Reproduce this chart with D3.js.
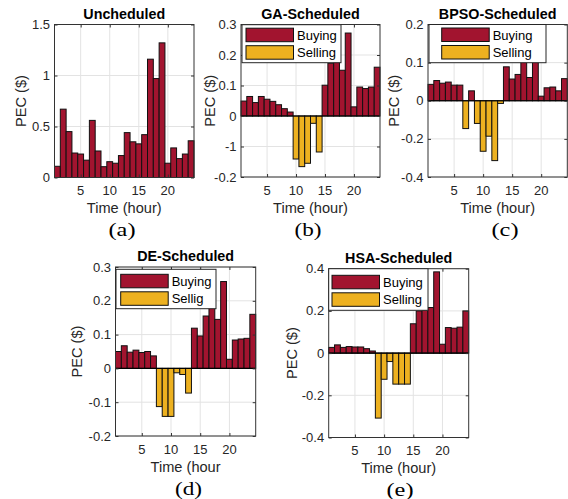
<!DOCTYPE html>
<html>
<head>
<meta charset="utf-8">
<script src="https://cdn.jsdelivr.net/npm/d3@7"></script>
<style>
  body { margin: 0; background: #fff; }
  svg { font-family: "Liberation Sans", Arial, sans-serif; }
</style>
</head>
<body>
<svg id="chart" width="568" height="499"></svg>
<script>
// hours 1..24
var hours = d3.range(1, 25);

// PEC values ($)
var unscheduled = [0.11, 0.67, 0.45, 0.24, 0.23, 0.17, 0.56, 0.26, 0.106, 0.155, 0.14, 0.215,
                   0.44, 0.35, 0.33, 0.42, 1.16, 0.97, 1.32, 0.14, 0.29, 0.185, 0.23, 0.36];
var gaScheduled = [0.049, 0.064, 0.044, 0.064, 0.055, 0.048, 0.037, 0.024, 0.013, -0.141, -0.166, -0.155,
                   -0.024, -0.118, 0.101, 0.173, 0.19, 0.15, 0.272, 0.03, 0.095, 0.09, 0.095, 0.16];
var bpsoScheduled = [0.043, 0.053, 0.046, 0.049, 0.041, 0.041, -0.146, 0.026, -0.119, -0.265, -0.186, -0.314,
                     -0.014, 0.089, 0.057, 0.069, 0.12, 0.061, 0.12, 0.012, 0.034, 0.036, 0.026, 0.058];
var deScheduled = [0.05, 0.067, 0.048, 0.054, 0.047, 0.05, 0.037, -0.113, -0.142, -0.142, -0.013, -0.018,
                   -0.073, 0.119, 0.096, 0.155, 0.18, 0.145, 0.257, 0.027, 0.084, 0.087, 0.089, 0.16];
var hsaScheduled = [0.027, 0.039, 0.027, 0.031, 0.029, 0.029, 0.021, 0.01, -0.308, -0.124, -0.04, -0.147,
                    -0.147, -0.147, 0.139, 0.2, 0.205, 0.216, 0.385, 0.042, 0.121, 0.118, 0.123, 0.2];

// tick values and their printed labels (as they appear in the figure)
var xTicks = [5, 10, 15, 20];
var ticksA = [0, 0.5, 1, 1.5], labelsA = ["0", "0.5", "1", "1.5"];
var ticksB = [-0.2, -0.1, 0, 0.1, 0.2, 0.3], labelsB = ["-0.2", "-1", "0", "0.1", "0.2", "0.3"];
var ticksC = [-0.4, -0.2, 0, 0.1, 0.2], labelsC = ["-0.4", "-0.2", "0", "0.1", "0.2"];
var ticksD = [-0.2, -0.1, 0, 0.1, 0.2, 0.3], labelsD = ["-0.2", "-0.1", "0", "0.1", "0.2", "0.3"];
var ticksE = [-0.4, -0.2, 0, 0.2, 0.4], labelsE = ["-0.4", "-0.2", "0", "0.2", "0.4"];

var buyColor = "#a2142f", sellColor = "#edb120";

var panels = [
  {title: "Uncheduled", caption: "(a)", xlab: "Time (hour)", values: unscheduled,
   ydom: [0, 1.5], yt: ticksA, yl: labelsA, box: [54.5, 24.5, 194, 177.5],
   ylabX: 21, capX: 122, legend: null},
  {title: "GA-Scheduled", caption: "(b)", xlab: "Time (hour)", values: gaScheduled,
   ydom: [-0.2, 0.3], yt: ticksB, yl: labelsB, box: [241, 24.5, 380, 177],
   ylabX: 209.5, capX: 308, legend: {x: 242, y: 24.7, w: 99, h: 38, px: 4, py: 3.5, sell: "Selling"}},
  {title: "BPSO-Scheduled", caption: "(c)", xlab: "Time (hour)", values: bpsoScheduled,
   ydom: [-0.4, 0, 0.2], yt: ticksC, yl: labelsC, box: [428, 24.5, 567.3, 177],
   ylabX: 394, capX: 505, legend: {x: 429, y: 24.5, w: 117, h: 38.2, px: 12.7, py: 3.5, sell: "Selling"}},
  {title: "DE-Scheduled", caption: "(d)", xlab: "Time (hour", values: deScheduled,
   ydom: [-0.2, 0.3], yt: ticksD, yl: labelsD, box: [115.5, 267, 255.7, 436],
   ylabX: 77, capX: 188.5, legend: {x: 116, y: 269.3, w: 100, h: 39.4, px: 4.7, py: 5, sell: "Sellig"}},
  {title: "HSA-Scheduled", caption: "(e)", xlab: "Time (hour)", values: hsaScheduled,
   ydom: [-0.4, 0.4], yt: ticksE, yl: labelsE, box: [328.7, 268.7, 468.7, 437.5],
   ylabX: 291.7, capX: 400, legend: {x: 328.7, y: 268.7, w: 99.3, h: 41.6, px: 3.3, py: 6.6, sell: "Selling"}}
];

var svg = d3.select("#chart");

panels.forEach(function (p) {
  var x0 = p.box[0], y0 = p.box[1], x1 = p.box[2], y1 = p.box[3];
  var g = svg.append("g");

  var x = d3.scaleLinear().domain([0.5, 24.5]).range([x0, x1]);
  // BPSO axis has uneven labels: zero sits in the middle
  var yRange = p.ydom.length == 3 ? [y1, y0 + (y1 - y0) / 2, y0] : [y1, y0];
  var y = d3.scaleLinear().domain(p.ydom).range(yRange);

  // grid
  g.selectAll(".gx").data(xTicks).enter().append("line")
    .attr("x1", function (d) { return x(d); }).attr("x2", function (d) { return x(d); })
    .attr("y1", y0).attr("y2", y1)
    .attr("stroke", "#e3e3e3").attr("stroke-width", 1);
  g.selectAll(".gy").data(p.yt).enter().append("line")
    .attr("x1", x0).attr("x2", x1)
    .attr("y1", function (d) { return y(d); }).attr("y2", function (d) { return y(d); })
    .attr("stroke", "#e3e3e3").attr("stroke-width", 1);

  // bars
  g.selectAll(".bar").data(hours).enter().append("rect")
    .attr("x", function (d) { return x(d - 0.5); })
    .attr("width", function (d) { return x(d + 0.5) - x(d - 0.5); })
    .attr("y", function (d, i) { return Math.min(y(p.values[i]), y(0)); })
    .attr("height", function (d, i) { return Math.abs(y(p.values[i]) - y(0)); })
    .attr("fill", function (d, i) { return p.values[i] >= 0 ? buyColor : sellColor; })
    .attr("stroke", "#111").attr("stroke-width", 1);

  // baseline
  g.append("line").attr("x1", x0).attr("x2", x1).attr("y1", y(0)).attr("y2", y(0))
    .attr("stroke", "#000").attr("stroke-width", 1.2);

  // axes (box with inward ticks)
  var axL = d3.axisRight(y).tickValues(p.yt).tickSize(3).tickFormat("");
  var axR = d3.axisLeft(y).tickValues(p.yt).tickSize(3).tickFormat("");
  var axB = d3.axisTop(x).tickValues(xTicks).tickSize(3).tickFormat("");
  var axT = d3.axisBottom(x).tickValues(xTicks).tickSize(3).tickFormat("");
  g.append("g").attr("transform", "translate(" + x0 + ",0)").call(axL);
  g.append("g").attr("transform", "translate(" + x1 + ",0)").call(axR);
  g.append("g").attr("transform", "translate(0," + y1 + ")").call(axB);
  g.append("g").attr("transform", "translate(0," + y0 + ")").call(axT);
  g.selectAll(".domain, .tick line").attr("stroke", "#333").attr("stroke-width", 1);
  g.selectAll(".domain").attr("d", null);
  g.append("rect").attr("x", x0).attr("y", y0).attr("width", x1 - x0).attr("height", y1 - y0)
    .attr("fill", "none").attr("stroke", "#333").attr("stroke-width", 1);

  // tick labels
  g.selectAll(".yl").data(p.yt).enter().append("text")
    .attr("x", x0 - 4.5).attr("y", function (d) { return y(d) + 4.5; })
    .attr("text-anchor", "end").attr("font-size", 13).attr("fill", "#262626")
    .text(function (d, i) { return p.yl[i]; });
  g.selectAll(".xl").data(xTicks).enter().append("text")
    .attr("x", function (d) { return x(d); }).attr("y", y1 + 17.5)
    .attr("text-anchor", "middle").attr("font-size", 13).attr("fill", "#262626")
    .text(function (d) { return d; });

  // labels
  g.append("text").attr("x", (x0 + x1) / 2).attr("y", y0 - 6)
    .attr("text-anchor", "middle").attr("font-size", 14.3).attr("font-weight", "bold")
    .text(p.title);
  g.append("text").attr("x", (x0 + x1) / 2).attr("y", y1 + 35.5)
    .attr("text-anchor", "middle").attr("font-size", 14.6).attr("fill", "#262626")
    .text(p.xlab);
  g.append("text").attr("transform", "translate(" + p.ylabX + "," + (y0 + y1) / 2 + ") rotate(-90)")
    .attr("dy", "0.35em")
    .attr("text-anchor", "middle").attr("font-size", 14.6).attr("fill", "#262626")
    .text("PEC ($)");
  // captions are drawn wide in the original
  g.append("text").attr("x", p.capX).attr("y", y1 + 58.5)
    .attr("text-anchor", "middle").attr("font-size", 19)
    .attr("font-family", "'Liberation Serif', 'Times New Roman', serif")
    .attr("textLength", 27).attr("lengthAdjust", "spacingAndGlyphs")
    .text(p.caption);

  // legend
  if (p.legend) {
    var L = p.legend;
    var lg = g.append("g");
    lg.append("rect").attr("x", L.x).attr("y", L.y).attr("width", L.w).attr("height", L.h)
      .attr("fill", "#fff").attr("stroke", "#262626").attr("stroke-width", 1);
    var items = [{c: buyColor, t: "Buying"}, {c: sellColor, t: L.sell}];
    items.forEach(function (it, k) {
      var py = L.y + L.py + k * 17.5;
      lg.append("rect").attr("x", L.x + L.px).attr("y", py).attr("width", 47.5).attr("height", 13.5)
        .attr("fill", it.c).attr("stroke", "#111").attr("stroke-width", 1);
      lg.append("text").attr("x", L.x + L.px + 51).attr("y", py + 11.5)
        .attr("font-size", 13).attr("fill", "#000").text(it.t);
    });
  }
});
</script>
</body>
</html>
